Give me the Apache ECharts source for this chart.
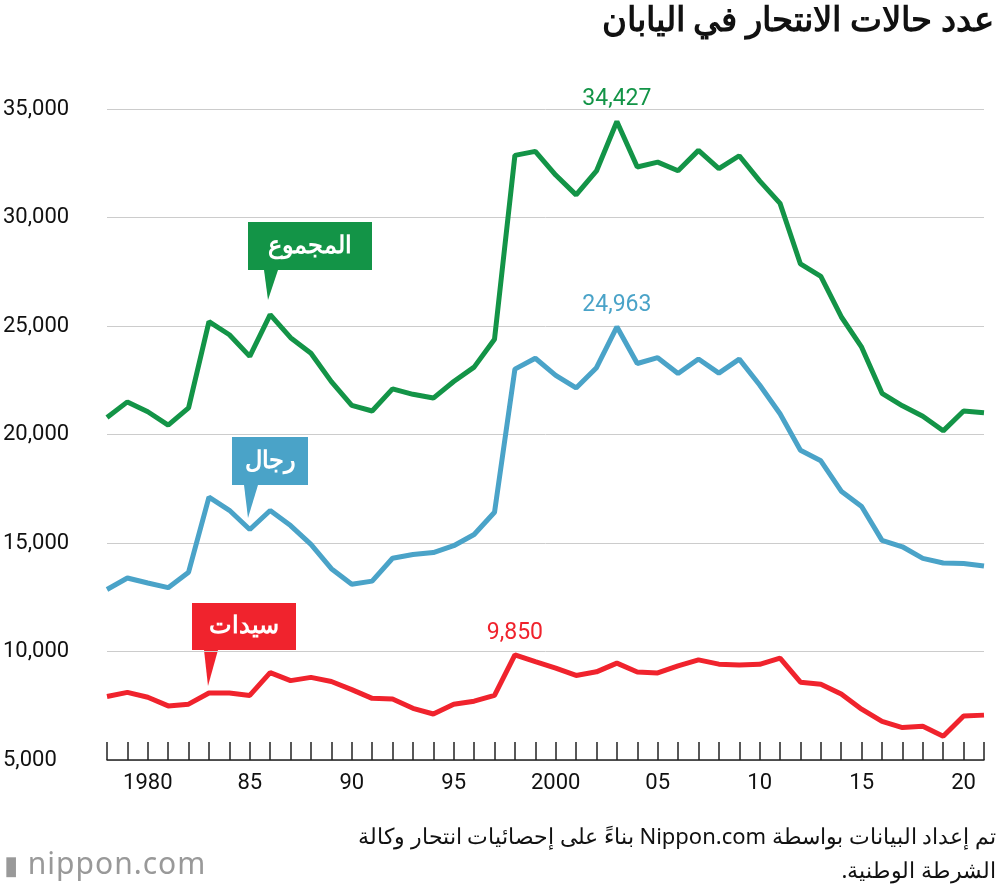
<!DOCTYPE html>
<html><head><meta charset="utf-8">
<script src="https://cdn.jsdelivr.net/npm/echarts@6/dist/echarts.min.js"></script>
<style>html,body{margin:0;padding:0;background:#fff}#w{position:relative;width:1000px;height:890px}#c{width:1000px;height:890px}
#src{position:absolute;right:4px;top:818px;width:760px;direction:rtl;text-align:right;font:22px "Noto Sans",sans-serif;line-height:34px;color:#111}
#logo{position:absolute;left:4px;top:842px;font:30px "Noto Sans",sans-serif;color:#999;letter-spacing:1px}</style>
</head><body><div id="w"><div id="c"></div>
<div id="src">تم إعداد البيانات بواسطة Nippon.com بناءً على إحصائيات انتحار وكالة<br>الشرطة الوطنية.</div>
<div id="logo"><span style="font-size:26px">▮</span> nippon.com</div></div>
<script>
const years=[];for(let y=1978;y<=2021;y++)years.push(y);
const total=[20788,21503,21048,20434,21228,25202,24596,23599,25524,24460,23742,22436,21346,21084,22104,21851,21679,22445,23104,24391,32863,33048,31957,31042,32143,34427,32325,32552,32155,33093,32249,32845,31690,30651,27858,27283,25427,24025,21897,21321,20840,20169,21081,21007];
const men=[12859,13386,13155,12942,13654,17116,16508,15624,16497,15802,14934,13818,13102,13242,14296,14468,14560,14874,15393,16416,23013,23512,22727,22144,23080,24963,23272,23540,22813,23478,22831,23472,22283,20955,19273,18787,17386,16681,15121,14826,14290,14078,14055,13939];
const women=[7929,8117,7893,7492,7574,8086,8088,7975,9027,8658,8808,8618,8244,7842,7808,7383,7119,7571,7711,7975,9850,9536,9230,8898,9063,9464,9053,9012,9342,9615,9418,9373,9407,9696,8585,8496,8041,7344,6776,6495,6550,6091,7026,7068];
const G='#139447',B='#4aa3c8',R='#f0232d';
const F='Roboto, "Noto Sans", sans-serif';
function ser(data,color,ly){
  const i=years.indexOf(ly);
  return {type:'line',data:data.map((v,i)=>[years[i],v]),symbol:'none',lineStyle:{width:5,color:color},
    markPoint:{symbol:'circle',symbolSize:1,itemStyle:{color:'transparent'},
      label:{show:true,position:'top',distance:10,color:color,fontSize:23,fontFamily:F,formatter:p=>p.value.toLocaleString('en-US')},
      data:[{coord:[ly,data[i]],value:data[i]}]}};
}
const ch=echarts.init(document.getElementById('c'));
function callout(x,y,w,h,tx,ty,color,text){
  return [{type:'polygon',shape:{points:[[tx,ty],[tx-4,y+h],[tx+10,y+h]]},style:{fill:color}},
    {type:'rect',shape:{x:x,y:y,width:w,height:h},style:{fill:color}},
    {type:'text',x:x+w/2,y:y+h/2,style:{text:text,fill:'#fff',font:'bold 24px "Noto Sans", sans-serif',align:'center',verticalAlign:'middle'}}];
}
ch.setOption({
  animation:false,
  grid:{left:104,right:16,top:109,bottom:130},
  xAxis:{type:'value',min:1978,max:2021,interval:1,
    axisLine:{show:true,lineStyle:{color:'#222',width:1.5}},
    axisTick:{show:true,inside:true,length:18,lineStyle:{color:'#222',width:1.5}},
    splitLine:{show:false},
    axisLabel:{fontSize:22,fontFamily:F,color:'#111',margin:12,
      formatter:v=>v%5!==0?'':(v===1980||v===2000?String(v):String(v%100).padStart(2,'0'))}},
  yAxis:{type:'value',min:5000,max:35000,interval:5000,
    axisLine:{show:false},axisTick:{show:false},
    splitLine:{lineStyle:{color:'#ccc',width:1}},
    axisLabel:{fontSize:22,fontFamily:F,color:'#111',align:'left',margin:104,
      formatter:v=>v.toLocaleString('en-US')}},
  series:[ser(total,G,2003),ser(men,B,2003),ser(women,R,1998)],
  graphic:[
    {type:'text',right:6,top:4,style:{text:'عدد حالات الانتحار في اليابان',fill:'#111',font:'bold 34px "Noto Sans", sans-serif'}},
    ...callout(248,222,124,48,268,300,G,'المجموع'),
    ...callout(232,437,76,48,248,518,B,'رجال'),
    ...callout(192,603,104,47,208,686,R,'سيدات')
  ]
});
</script></body></html>
